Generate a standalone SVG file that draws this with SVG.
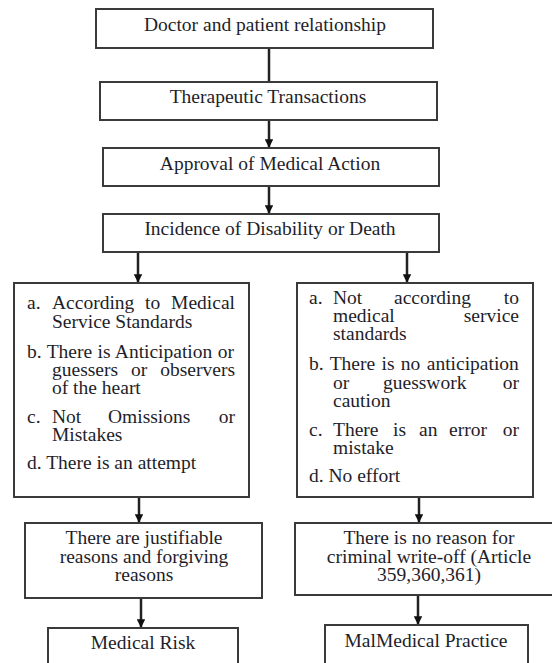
<svg xmlns="http://www.w3.org/2000/svg" width="552" height="663" viewBox="0 0 552 663">
<defs>
<style>
.box{fill:#fff;stroke:#3a3a3a;stroke-width:2}
.ln{stroke:#222;stroke-width:2.5;fill:none}
.t text{font-family:'Liberation Serif','Times New Roman','DejaVu Serif',serif;font-size:19.5px;fill:#1e1e2a}
.c{text-anchor:middle}
.e{text-anchor:end}
</style>
<marker id="ah" viewBox="0 0 10 10" refX="9" refY="5" markerWidth="3.4" markerHeight="3.4" orient="auto" markerUnits="strokeWidth">
<path d="M0,0 L10,5 L0,10 z" fill="#111"/>
</marker>
</defs>
<rect width="552" height="663" fill="#fff"/>
<g id="connectors">
<line class="ln" x1="269" y1="48" x2="269" y2="82"/>
<line class="ln" x1="269" y1="120" x2="269" y2="147" marker-end="url(#ah)"/>
<line class="ln" x1="269" y1="186" x2="269" y2="213" marker-end="url(#ah)"/>
<line class="ln" x1="138" y1="252" x2="138" y2="282" marker-end="url(#ah)"/>
<line class="ln" x1="407" y1="252" x2="407" y2="282" marker-end="url(#ah)"/>
<line class="ln" x1="139" y1="497" x2="139" y2="522" marker-end="url(#ah)"/>
<line class="ln" x1="419" y1="497" x2="419" y2="522" marker-end="url(#ah)"/>
<line class="ln" x1="141" y1="598" x2="141" y2="627" marker-end="url(#ah)"/>
<line class="ln" x1="418" y1="595" x2="418" y2="624" marker-end="url(#ah)"/>
</g>
<g class="t">
<g id="n1">
<rect class="box" x="96" y="9" width="337" height="39"/>
<text class="c" x="265" y="31">Doctor and patient relationship</text>
</g>
<g id="n2">
<rect class="box" x="100" y="82" width="337" height="38"/>
<text class="c" x="268" y="103">Therapeutic Transactions</text>
</g>
<g id="n3">
<rect class="box" x="103" y="148" width="336" height="38"/>
<text class="c" x="270" y="170">Approval of Medical Action</text>
</g>
<g id="n4">
<rect class="box" x="103" y="214" width="336" height="38"/>
<text class="c" x="270" y="235">Incidence of Disability or Death</text>
</g>
<g id="n5">
<rect class="box" x="14" y="283" width="235" height="214"/>
<text x="27" y="309">a.</text><text x="52" y="309">According</text><text x="145" y="309">to</text><text class="e" x="235" y="309">Medical</text>
<text x="52" y="328">Service Standards</text>
<text x="27" y="358" word-spacing="0.5">b. There is Anticipation or</text>
<text x="52" y="376">guessers</text><text x="131" y="376">or</text><text class="e" x="235" y="376">observers</text>
<text x="52" y="394">of the heart</text>
<text x="27" y="423">c.</text><text x="52" y="423">Not</text><text x="108" y="423">Omissions</text><text class="e" x="235" y="423">or</text>
<text x="52" y="441">Mistakes</text>
<text x="27" y="469">d. There is an attempt</text>
</g>
<g id="n6">
<rect class="box" x="297" y="283" width="236" height="214"/>
<text x="309" y="304">a.</text><text x="333" y="304">Not</text><text x="394" y="304">according</text><text class="e" x="519" y="304">to</text>
<text x="333" y="322">medical</text><text class="e" x="519" y="322">service</text>
<text x="333" y="340">standards</text>
<text x="309" y="370" word-spacing="1.5">b. There is no anticipation</text>
<text x="333" y="389">or</text><text x="383" y="389">guesswork</text><text class="e" x="519" y="389">or</text>
<text x="333" y="407">caution</text>
<text x="309" y="436">c.</text><text x="333" y="436">There</text><text x="393" y="436">is</text><text x="419" y="436">an</text><text x="449" y="436">error</text><text class="e" x="519" y="436">or</text>
<text x="333" y="454">mistake</text>
<text x="309" y="482">d. No effort</text>
</g>
<g id="n7">
<rect class="box" x="25" y="523" width="237" height="75"/>
<text class="c" x="144" y="544">There are justifiable</text>
<text class="c" x="144" y="563">reasons and forgiving</text>
<text class="c" x="144" y="581">reasons</text>
</g>
<g id="n8">
<rect class="box" x="295" y="523" width="262" height="72"/>
<text class="c" x="429" y="544">There is no reason for</text>
<text class="c" x="429" y="563">criminal write-off (Article</text>
<text class="c" x="429" y="581">359,360,361)</text>
</g>
<g id="n9">
<rect class="box" x="48" y="628" width="190" height="45"/>
<text class="c" x="143" y="649">Medical Risk</text>
</g>
<g id="n10">
<rect class="box" x="325" y="625" width="203" height="48"/>
<text class="c" x="426" y="647">MalMedical Practice</text>
</g>
</g>
</svg>
